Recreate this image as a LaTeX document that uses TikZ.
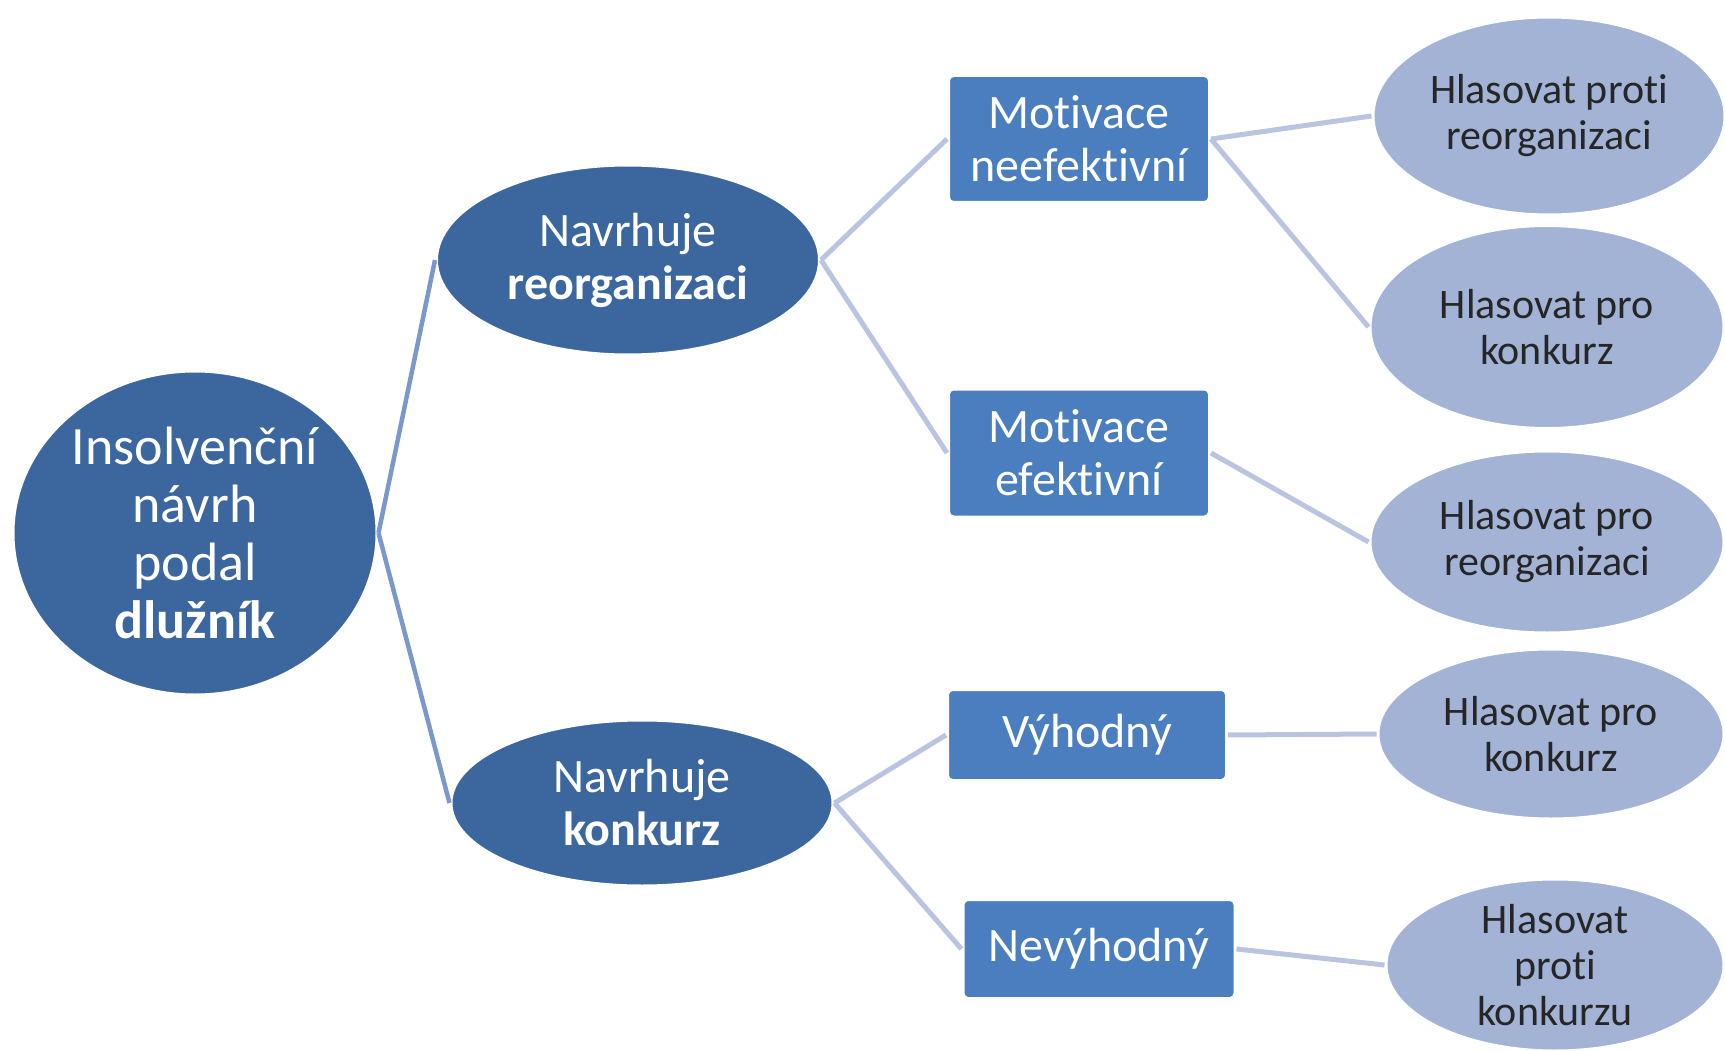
\documentclass[tikz,border=0pt]{standalone}
\usepackage{fontspec}
\setmainfont{Carlito}[Ligatures=NoCommon]
\usetikzlibrary{shapes.geometric}
\definecolor{darkblue}{HTML}{3C679E}
\definecolor{midblue}{HTML}{4A7EBE}
\definecolor{paleblue}{HTML}{A2B3D6}
\definecolor{rootline}{HTML}{7B98CC}
\definecolor{paleline}{HTML}{B9C4E0}
\tikzset{
	root/.style={ellipse, fill=darkblue, draw=white, line width=3pt, text=white, inner sep=0pt, align=center, font=\fontsize{54}{58}\selectfont},
	choice/.style={ellipse, fill=darkblue, draw=white, line width=3pt, text=white, inner sep=0pt, align=center, font=\fontsize{48}{53}\selectfont},
	motive/.style={rectangle, rounded corners=5pt, fill=midblue, draw=white, line width=3pt, text=white, inner sep=0pt, align=center, font=\fontsize{48}{53}\selectfont},
	vote/.style={ellipse, fill=paleblue, draw=white, line width=3pt, text=black!85, inner sep=0pt, align=center, font=\fontsize{42}{46}\selectfont},
	link/.style={paleline, line width=5pt},
	rootlink/.style={rootline, line width=4.5pt}
}
\begin{document}
\begin{tikzpicture}[x=1pt,y=-1pt]
	\useasboundingbox (0,0) rectangle (1725,1051);
	% levels from left to right
	\node[root, minimum width=364pt, minimum height=324pt] (dluznik) at (195,533) {Insolvenční\\návrh\\podal\\\textbf{dlužník}};
	\node[choice, minimum width=383pt, minimum height=190pt] (reorg) at (628,260) {Navrhuje\\\textbf{reorganizaci}};
	\node[choice, minimum width=382pt, minimum height=166pt] (konk) at (642,803) {Navrhuje\\\textbf{konkurz}};
	\node[motive, minimum width=261pt, minimum height=127pt] (neef) at (1079,139) {Motivace\\neefektivní};
	\node[motive, minimum width=261pt, minimum height=128pt] (ef) at (1079,453) {Motivace\\efektivní};
	\node[motive, minimum width=279pt, minimum height=91pt] (vyh) at (1087,735) {Výhodný};
	\node[motive, minimum width=272pt, minimum height=99pt] (nevyh) at (1099,949) {Nevýhodný};
	\node[vote, minimum width=352pt, minimum height=198pt] (protireorg) at (1549,116) {Hlasovat proti\\reorganizaci};
	\node[vote, minimum width=354pt, minimum height=203pt] (prokonk1) at (1547,327) {Hlasovat pro\\konkurz};
	\node[vote, minimum width=354pt, minimum height=182pt] (proreorg) at (1547,542) {Hlasovat pro\\reorganizaci};
	\node[vote, minimum width=346pt, minimum height=170pt] (prokonk2) at (1551,734) {Hlasovat pro\\konkurz};
	\node[vote, minimum width=338pt, minimum height=172pt] (protikonk) at (1555,965) {Hlasovat\\proti\\konkurzu};
	% connectors
	\draw[rootlink] (dluznik.east) -- (reorg.west);
	\draw[rootlink] (dluznik.east) -- (konk.west);
	\draw[link] (reorg.east) -- (neef.west);
	\draw[link] (reorg.east) -- (ef.west);
	\draw[link] (konk.east) -- (vyh.west);
	\draw[link] (konk.east) -- (nevyh.west);
	\draw[link] (neef.east) -- (protireorg.west);
	\draw[link] (neef.east) -- (prokonk1.west);
	\draw[link] (ef.east) -- (proreorg.west);
	\draw[link] (vyh.east) -- (prokonk2.west);
	\draw[link] (nevyh.east) -- (protikonk.west);
\end{tikzpicture}
\end{document}
